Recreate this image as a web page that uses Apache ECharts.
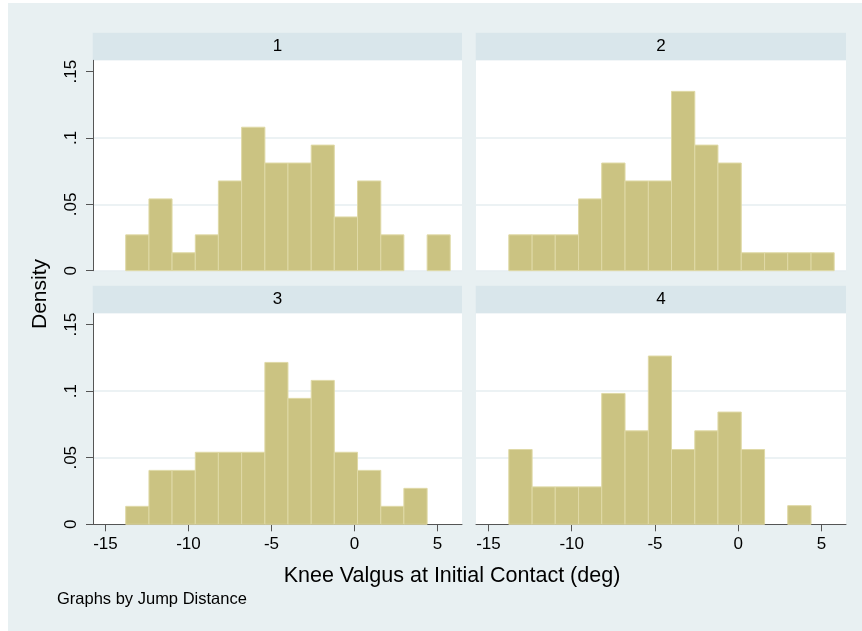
<!DOCTYPE html>
<html>
<head>
<meta charset="utf-8">
<script src="https://cdn.jsdelivr.net/npm/echarts@6/dist/echarts.min.js"></script>
<style>
  html, body { margin: 0; padding: 0; background: #ffffff; }
  #bg { position: absolute; left: 8px; top: 3px; width: 854px; height: 628px; background: #E8F0F2; }
  #chart { position: absolute; left: 0; top: 0; width: 862px; height: 631px; }
</style>
</head>
<body>
<div id="bg"></div>
<div id="chart"></div>
<script>
// Histogram bin edges (degrees), shared by all four panels
const binEdges = [-13.78, -12.38, -10.99, -9.59, -8.20, -6.80, -5.40, -4.01, -2.61, -1.22, 0.18, 1.58, 2.97, 4.37, 5.76];

// Density per bin for each jump-distance group
const density1 = [0.0270, 0.0541, 0.0135, 0.0270, 0.0676, 0.1081, 0.0811, 0.0811, 0.0946, 0.0405, 0.0676, 0.0270, 0, 0.0270];
const density2 = [0.0270, 0.0270, 0.0270, 0.0541, 0.0811, 0.0676, 0.0676, 0.1351, 0.0946, 0.0811, 0.0135, 0.0135, 0.0135, 0.0135];
const density3 = [0.0135, 0.0405, 0.0405, 0.0541, 0.0541, 0.0541, 0.1216, 0.0946, 0.1081, 0.0541, 0.0405, 0.0135, 0.0270, 0];
const density4 = [0.0562, 0.0281, 0.0281, 0.0281, 0.0983, 0.0702, 0.1264, 0.0562, 0.0702, 0.0843, 0.0562, 0, 0.0140, 0];

const groupLabels = ['1', '2', '3', '4'];
const xTicks = [-15, -10, -5, 0, 5];
const yTicks = [0, 0.05, 0.1, 0.15];
const xTitle = 'Knee Valgus at Initial Contact (deg)';
const yTitle = 'Density';
const note = 'Graphs by Jump Distance';

const FONT = '"Liberation Sans", Arial, Helvetica, sans-serif';
const BAR_FILL = '#CBC382';
const BAR_EDGE = '#DFD9A6';
const GRID_LINE = '#E6EEF1';
const AXIS_COLOR = '#555555';
const STRIP_FILL = '#D9E6EB';

const X_MIN = -15.75, X_MAX = 6.47;
const Y_MAX = 0.1585;

// Panel placement (left column / right column, top row / bottom row)
const panels = [
  { left: 93,  top: 60.3,  width: 369, height: 210.4 },
  { left: 476, top: 60.3,  width: 370, height: 210.4 },
  { left: 93,  top: 313.3, width: 369, height: 211 },
  { left: 476, top: 313.3, width: 370, height: 211 }
];
const stripHeight = 27.6;

const series = [density1, density2, density3, density4];

function yLabel(v) {
  if (v === 0) return '0';
  return String(+v.toFixed(2)).replace(/^0\./, '.');
}

const grids = panels.map(p => ({
  left: p.left, top: p.top, width: p.width, height: p.height,
  show: true, backgroundColor: '#ffffff', borderWidth: 0, containLabel: false
}));

const xAxes = panels.map((p, i) => {
  const bottomRow = i >= 2;
  return {
    type: 'value', gridIndex: i, min: X_MIN, max: X_MAX,
    axisLine: { show: bottomRow, onZero: false, lineStyle: { color: AXIS_COLOR, width: 1 } },
    axisTick: { show: bottomRow, length: 7, customValues: xTicks, lineStyle: { color: AXIS_COLOR } },
    axisLabel: {
      show: bottomRow, customValues: xTicks, margin: 12,
      color: '#000', fontFamily: FONT, fontSize: 17,
      formatter: v => String(v)
    },
    splitLine: { show: false }
  };
});

const yAxes = panels.map((p, i) => {
  const leftCol = i % 2 === 0;
  return {
    type: 'value', gridIndex: i, min: 0, max: Y_MAX, interval: 0.05,
    axisLine: { show: leftCol, onZero: false, lineStyle: { color: AXIS_COLOR, width: 1 } },
    axisTick: { show: leftCol, length: 7, customValues: yTicks, lineStyle: { color: AXIS_COLOR } },
    axisLabel: {
      show: leftCol, customValues: yTicks, rotate: 90, margin: 13,
      color: '#000', fontFamily: FONT, fontSize: 17,
      formatter: yLabel
    },
    splitLine: { show: true, showMaxLine: false, lineStyle: { color: GRID_LINE, width: 1.5 } }
  };
});

function histogramData(dens) {
  return dens.map((d, k) => [binEdges[k], binEdges[k + 1], d]);
}

const seriesList = series.map((dens, i) => ({
  type: 'custom', xAxisIndex: i, yAxisIndex: i,
  data: histogramData(dens),
  encode: { x: [0, 1], y: 2 },
  renderItem: (params, api) => {
    const h = api.value(2);
    if (!h) return null;
    const p0 = api.coord([api.value(0), 0]);
    const p1 = api.coord([api.value(1), h]);
    return {
      type: 'rect',
      shape: { x: p0[0], y: p1[1], width: p1[0] - p0[0], height: p0[1] - p1[1] },
      style: { fill: BAR_FILL, stroke: BAR_EDGE, lineWidth: 1 }
    };
  }
}));

// Strip headers over each panel, plus the shared titles
const graphics = [];
panels.forEach((p, i) => {
  const stripTop = p.top - stripHeight;
  graphics.push({
    type: 'rect', silent: true,
    shape: { x: p.left - 0.3, y: stripTop, width: p.width + 0.3, height: stripHeight },
    style: { fill: STRIP_FILL }
  });
  graphics.push({
    type: 'text', silent: true,
    x: p.left + p.width / 2, y: stripTop + stripHeight / 2,
    style: { text: groupLabels[i], fill: '#000', font: '17px ' + FONT, textAlign: 'center', textVerticalAlign: 'middle' }
  });
});
graphics.push({
  type: 'text', silent: true, x: 40, y: 294, rotation: Math.PI / 2,
  style: { text: yTitle, fill: '#000', font: '21px ' + FONT, textAlign: 'center', textVerticalAlign: 'middle' }
});
graphics.push({
  type: 'text', silent: true, x: 452, y: 576,
  style: { text: xTitle, fill: '#000', font: '21.5px ' + FONT, textAlign: 'center', textVerticalAlign: 'middle' }
});
graphics.push({
  type: 'text', silent: true, x: 57, y: 599,
  style: { text: note, fill: '#000', font: '16.5px ' + FONT, textAlign: 'left', textVerticalAlign: 'middle' }
});

const chart = echarts.init(document.getElementById('chart'), null, { renderer: 'canvas' });
chart.setOption({
  backgroundColor: 'transparent',
  animation: false,
  grid: grids,
  xAxis: xAxes,
  yAxis: yAxes,
  series: seriesList,
  graphic: { elements: graphics }
});
</script>
</body>
</html>
